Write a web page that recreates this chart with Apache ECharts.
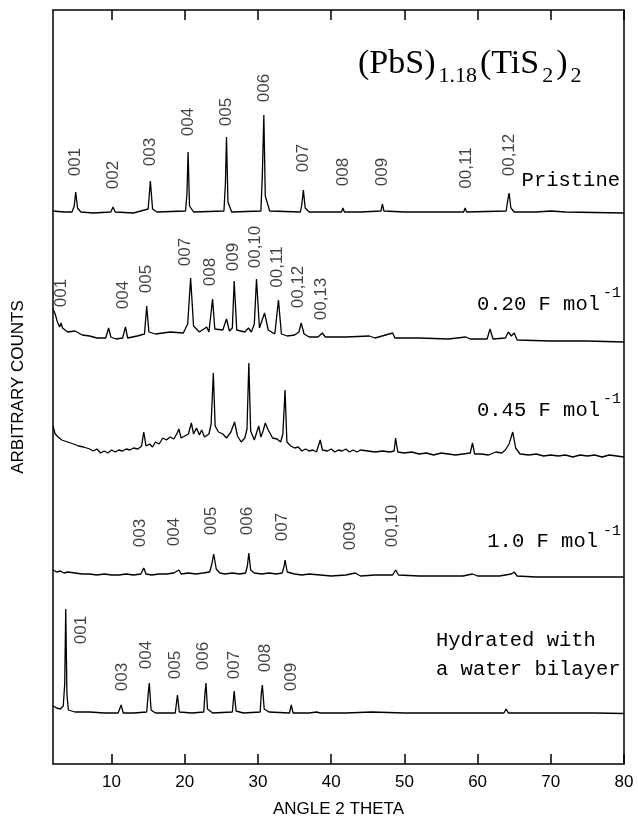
<!DOCTYPE html>
<html>
<head>
<meta charset="utf-8">
<script src="https://cdn.jsdelivr.net/npm/echarts@6/dist/echarts.min.js"></script>
<style>
  html, body { margin: 0; padding: 0; background: #fff; }
  #main { width: 638px; height: 821px; }
</style>
</head>
<body>
<div id="main"></div>
<script>
// x ticks (2 theta)
var xTicks = [10, 20, 30, 40, 50, 60, 70, 80];

// patterns: [2theta, counts incl. vertical offset]
var pristineData = [[2,553],[3.5,552],[4.6,552],[4.9,558],[5.1,572],[5.35,556],[5.8,552],[7.5,551],[9.9,552],[10.2,557],[10.5,552],[13,551],[15.0,555],[15.3,583],[15.6,555],[16.2,552],[20.1,553],[20.3,570],[20.45,612],[20.65,558],[21.2,552],[25.35,553],[25.55,580],[25.7,627],[25.9,562],[26.4,552],[30.4,553],[30.6,590],[30.8,649],[31.0,568],[31.6,553],[35.8,552],[36.0,560],[36.2,574],[36.45,556],[37,552],[41.4,552],[41.6,556],[41.8,552],[44,552],[46.8,553],[47.0,560],[47.2,553],[50,552],[55,552],[58.1,552],[58.3,556],[58.5,552],[63.9,553],[64.15,565],[64.3,571],[64.55,556],[65,552],[68,552],[70,553],[72,552],[80,551]];

var f020Data = [[2,455],[2.3,450],[2.6,442],[2.9,437],[3.1,441],[3.3,436],[4,432],[5,433],[6,429],[7,428],[8,426],[9.2,426],[9.6,436],[9.9,427],[10.6,425],[11.5,426],[11.9,437],[12.2,426],[13.5,428],[14.5,430],[14.8,458],[15.1,432],[16,430],[18,432],[19.8,431],[20.4,440],[20.8,486],[21.2,438],[22,432],[23,437],[23.3,432],[23.8,465],[24.1,435],[25.2,434],[25.7,445],[26.1,433],[26.5,436],[26.75,483],[27.1,434],[28.2,432],[28.7,436],[29.1,432],[29.5,440],[29.8,485],[30.2,436],[30.9,451],[31.4,434],[32.3,430],[32.8,464],[33.2,430],[34,428],[35,429],[35.6,432],[35.9,441],[36.3,430],[37,427],[38.2,427],[38.8,431],[39.2,427],[42,427],[45.2,428],[46,426],[48.4,431],[48.7,426],[52,426],[56,425],[58.4,427],[59,425],[61.3,425],[61.7,435],[62.1,425],[63.8,426],[64.2,432],[64.6,428],[65.0,431],[65.4,424],[70,423],[75,423],[80,422]];

var f045Data = [[2,338],[2.3,330],[2.7,327],[3.2,324],[4,322],[4.8,320],[5.5,318],[6.2,317],[7,315],[7.5,313],[8,315],[8.5,311],[9,313],[9.5,311],[10,314],[10.5,312],[11,314],[11.5,313],[12,315],[12.5,314],[13,316],[13.6,315],[14.1,318],[14.4,332],[14.7,318],[15.2,320],[15.6,317],[16,322],[16.5,320],[17,326],[17.5,324],[18,327],[18.5,325],[18.9,330],[19.2,335],[19.5,326],[20,328],[20.5,330],[20.9,341],[21.2,330],[21.6,336],[22,329],[22.3,334],[22.7,327],[23.3,330],[23.6,340],[23.9,391],[24.15,338],[24.6,332],[25.2,330],[25.7,326],[26.3,332],[26.8,342],[27.2,328],[27.7,322],[28.2,326],[28.5,335],[28.75,401],[29.0,333],[29.5,324],[30.1,338],[30.4,327],[30.7,333],[31.0,341],[31.4,334],[32,326],[32.6,325],[33.1,322],[33.4,330],[33.7,374],[33.95,322],[34.5,318],[35,316],[35.5,317],[36,313],[36.5,315],[37,313],[37.5,314],[38,312],[38.5,324],[38.8,314],[39.5,313],[40,315],[40.5,312],[41,314],[41.5,313],[42,315],[42.5,312],[43,314],[43.5,312],[44,314],[45,313],[46,312],[47,313],[48,312],[48.6,313],[48.8,326],[49.1,312],[50,311],[51,312],[52,310],[53,311],[54,309],[55,311],[56,310],[57,309],[58,310],[59,311],[59.3,321],[59.6,310],[60.5,310],[61.5,309],[62.5,312],[63.3,311],[63.8,314],[64.3,320],[64.8,332],[65.2,316],[65.8,310],[67,309],[68,310],[69,308],[70,309],[71,308],[72,309],[73,307],[74,309],[75,308],[76,309],[77,307],[78,309],[79,308],[80,307]];

var f100Data = [[2,194],[2.5,192],[3,193],[3.5,191],[4,192],[5,191],[6,190],[7,190],[8,189],[9,190],[10,189],[11,189],[12,190],[13,189],[14,190],[14.4,196],[14.7,190],[15.5,189],[16.5,190],[17.5,190],[18.5,191],[19.2,194],[19.5,190],[20.5,191],[21.5,190],[22.5,191],[23.4,192],[23.7,200],[23.95,210],[24.3,195],[24.8,191],[25.5,190],[26.5,191],[27.5,190],[28.3,191],[28.55,198],[28.75,211],[29.0,194],[29.5,191],[30.5,190],[31.5,191],[32.5,190],[33.3,191],[33.55,197],[33.7,204],[34.0,192],[35,190],[36,189],[37,190],[38.5,189],[40,188],[42,189],[43.3,191],[44,188],[46,189],[48.4,189],[48.8,194],[49.2,189],[52,188],[55,188],[58,188],[59.3,190],[60,188],[63,188],[64.6,190],[65.0,192],[65.4,188],[68,187],[72,187],[76,187],[80,187]];

var hydratedData = [[2,58],[2.5,56],[3.0,55],[3.4,58],[3.6,80],[3.74,155],[3.9,70],[4.1,54],[5,52],[7,52],[9,51],[10.9,51],[11.3,59],[11.6,51],[13,51],[14.8,52],[15.0,70],[15.15,81],[15.4,54],[16,51],[18.7,51],[19.0,69],[19.25,52],[21,51],[22.6,52],[22.75,70],[22.9,81],[23.1,55],[23.8,51],[26.5,52],[26.75,73],[27.0,53],[28,51],[30.3,52],[30.45,70],[30.6,79],[30.85,55],[31.5,52],[34.3,51],[34.55,59],[34.8,51],[37,51],[38,52],[38.5,51],[42,51],[45.5,52],[50,51],[55,51],[60,51],[63.6,51],[63.9,55],[64.2,51],[68,51],[72,51],[76,51],[80,50.5]];

// reflection labels: [2theta, height, text]
var pristineLabels = [[5.0,602,'001'],[10.2,589,'002'],[15.3,612,'003'],[20.45,642,'004'],[25.7,652,'005'],[30.8,676,'006'],[36.2,606,'007'],[41.6,592,'008'],[47.0,592,'009'],[58.4,596,'00,11'],[64.3,609,'00,12']];
var f020Labels = [[3.2,471,'001'],[11.6,469,'004'],[14.8,485,'005'],[20.1,512,'007'],[23.5,492,'008'],[26.6,507,'009'],[29.7,517,'00,10'],[32.6,497,'00,11'],[35.5,477,'00,12'],[38.6,465,'00,13']];
var f100Labels = [[13.9,231,'003'],[18.6,232,'004'],[23.6,243,'005'],[28.6,243,'006'],[33.3,237,'007'],[42.6,228,'009'],[48.3,238,'00,10']];
var hydratedLabels = [[5.9,134,'001'],[11.4,87,'003'],[14.8,109,'004'],[18.7,99,'005'],[22.6,108,'006'],[26.7,99,'007'],[31.0,106,'008'],[34.5,87,'009']];

// title pieces: [text, isSubscript]
var titleParts = [['(PbS)', 0], ['1.18', 1], ['(TiS', 0], ['2', 1], [')', 0], ['2', 1]];

var chart = echarts.init(document.getElementById('main'));

function trace(name, data) {
  return {
    name: name, type: 'line', data: data, symbol: 'none', silent: true,
    lineStyle: { color: '#000', width: 1.3 }
  };
}
function labels(data) {
  return {
    type: 'scatter', data: data, symbolSize: 0, silent: true,
    label: {
      show: true, position: 'inside', rotate: 90, color: '#111',
      fontFamily: 'Liberation Sans', fontSize: 17,
      formatter: function (p) { return p.data[2]; }
    }
  };
}
function txt(x, y, s, size, align, family) {
  return {
    type: 'text', x: x, y: y, silent: true,
    style: { text: s, fill: '#000', font: size + 'px "' + (family || 'Liberation Mono') + '"',
      textAlign: align || 'left', textVerticalAlign: 'middle' }
  };
}

// lay the title out piece by piece
var measure = document.createElement('canvas').getContext('2d');
var titleEls = [];
var tx = 358;
titleParts.forEach(function (p) {
  var size = p[1] ? 22 : 34;
  measure.font = size + 'px "Liberation Serif"';
  tx += p[1] ? 3 : 0;
  titleEls.push(txt(tx, p[1] ? 76 : 64, p[0], size, 'left', 'Liberation Serif'));
  tx += measure.measureText(p[0]).width + (p[1] ? 3 : 0);
});

var option = {
  animation: false,
  grid: { left: 53, right: 14, top: 10, bottom: 57, outerBoundsMode: 'none',
    show: true, borderColor: '#000', borderWidth: 1.5 },
  xAxis: [{
    type: 'value', min: 2, max: 80, position: 'bottom',
    name: 'ANGLE 2 THETA', nameLocation: 'middle', nameGap: 37,
    nameTextStyle: { fontFamily: 'Liberation Sans', fontSize: 17, color: '#000' },
    axisLine: { show: false },
    axisTick: { show: true, inside: true, length: 10, customValues: xTicks, lineStyle: { color: '#000', width: 1.5 } },
    axisLabel: { customValues: xTicks, margin: 10, fontFamily: 'Liberation Sans', fontSize: 17, color: '#000' },
    splitLine: { show: false }
  }, {
    type: 'value', min: 2, max: 80, position: 'top',
    axisLine: { show: false },
    axisTick: { show: true, inside: true, length: 10, customValues: xTicks, lineStyle: { color: '#000', width: 1.5 } },
    axisLabel: { show: false },
    splitLine: { show: false }
  }],
  yAxis: {
    type: 'value', min: 0, max: 754,
    name: 'ARBITRARY COUNTS', nameLocation: 'middle', nameGap: 26,
    nameTextStyle: { fontFamily: 'Liberation Sans', fontSize: 17, color: '#000' },
    axisLine: { show: false }, axisTick: { show: false }, axisLabel: { show: false },
    splitLine: { show: false }
  },
  series: [
    trace('Pristine', pristineData),
    trace('0.20 F/mol', f020Data),
    trace('0.45 F/mol', f045Data),
    trace('1.0 F/mol', f100Data),
    trace('Hydrated', hydratedData),
    labels(pristineLabels),
    labels(f020Labels),
    labels(f100Labels),
    labels(hydratedLabels)
  ],
  graphic: titleEls.concat([
    // sample names
    txt(620, 181, 'Pristine', 20.5, 'right'),
    txt(600, 305, '0.20 F mol', 20.5, 'right'),
    txt(603, 293, '-1', 15),
    txt(600, 411, '0.45 F mol', 20.5, 'right'),
    txt(603, 399, '-1', 15),
    txt(598, 542, '1.0 F mol', 20.5, 'right'),
    txt(603, 531, '-1', 15),
    txt(436, 641, 'Hydrated with', 20.5),
    txt(436, 670, 'a water bilayer', 20.5)
  ])
};
chart.setOption(option);
</script>
</body>
</html>
